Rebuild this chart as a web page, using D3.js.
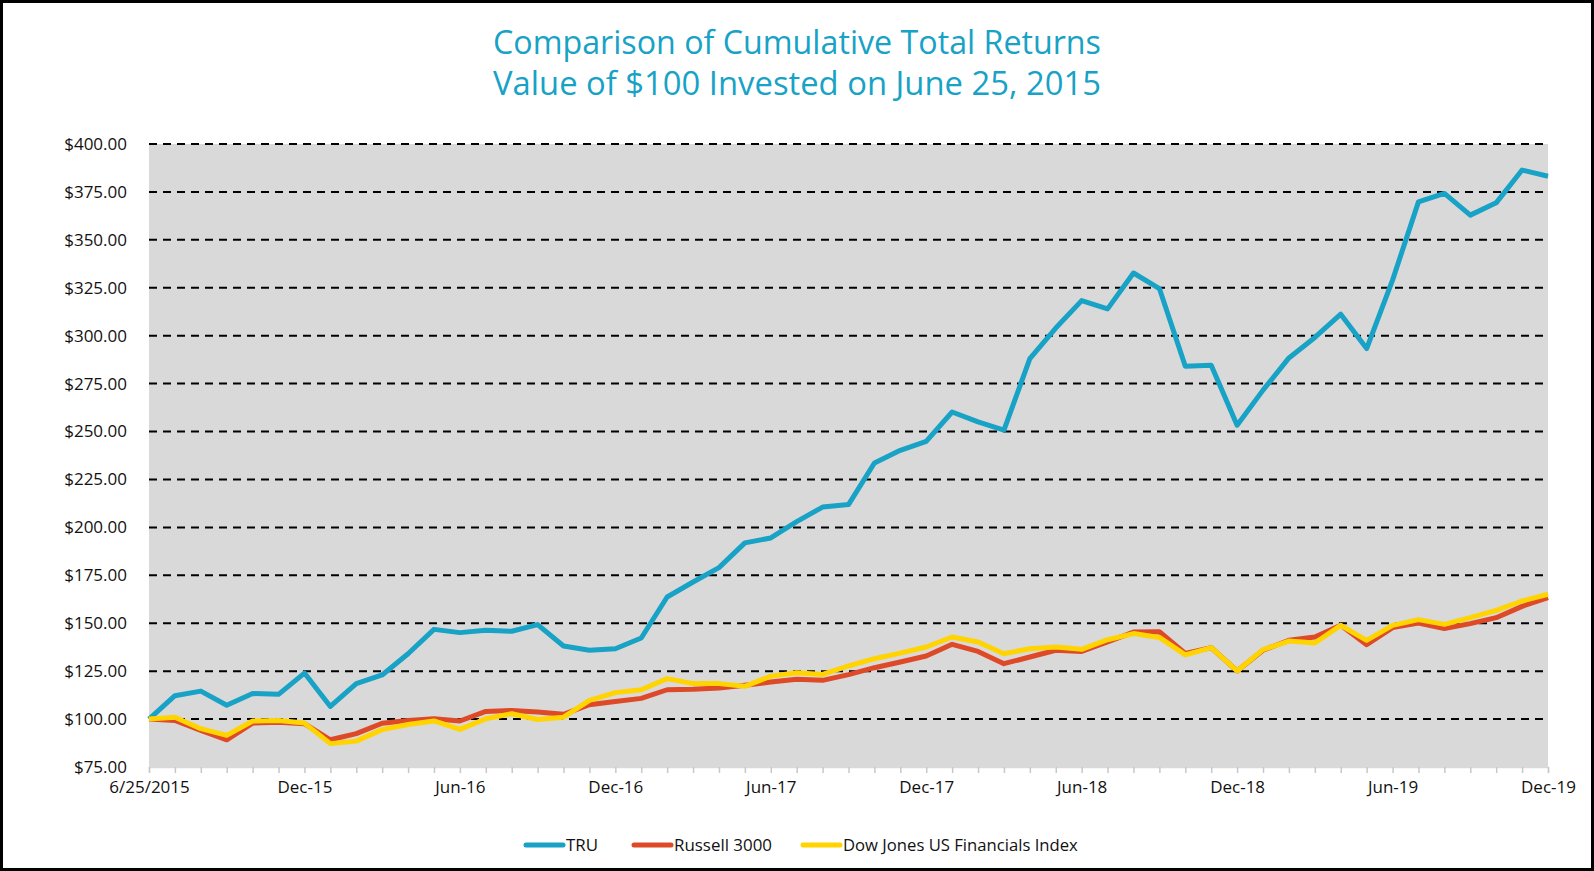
<!DOCTYPE html>
<html>
<head>
<meta charset="utf-8">
<script src="https://cdn.jsdelivr.net/npm/d3@7"></script>
<style>
  html, body { margin: 0; padding: 0; background: #fff; }
  svg { display: block; font-family: "Open Sans", sans-serif; }
</style>
</head>
<body>
<div class="chart"></div>
<script>
// month categories, 6/25/2015 .. Dec-19
const months = [
  "6/25/2015", "Jul-15", "Aug-15", "Sep-15", "Oct-15", "Nov-15", "Dec-15",
  "Jan-16", "Feb-16", "Mar-16", "Apr-16", "May-16", "Jun-16",
  "Jul-16", "Aug-16", "Sep-16", "Oct-16", "Nov-16", "Dec-16",
  "Jan-17", "Feb-17", "Mar-17", "Apr-17", "May-17", "Jun-17",
  "Jul-17", "Aug-17", "Sep-17", "Oct-17", "Nov-17", "Dec-17",
  "Jan-18", "Feb-18", "Mar-18", "Apr-18", "May-18", "Jun-18",
  "Jul-18", "Aug-18", "Sep-18", "Oct-18", "Nov-18", "Dec-18",
  "Jan-19", "Feb-19", "Mar-19", "Apr-19", "May-19", "Jun-19",
  "Jul-19", "Aug-19", "Sep-19", "Oct-19", "Nov-19", "Dec-19"
]
const tickLabels = ["6/25/2015", "Dec-15", "Jun-16", "Dec-16", "Jun-17",
  "Dec-17", "Jun-18", "Dec-18", "Jun-19", "Dec-19"]

const tru = [
  100, 112.2, 114.6, 107.2, 113.3, 112.9, 124.0, 106.6, 118.5, 123.0,
  134.1, 146.8, 145.1, 146.3, 145.8, 149.3, 138.1, 135.9, 136.7, 142.3,
  163.7, 171.5, 179.0, 191.9, 194.5, 203.0, 210.6, 211.9, 233.6, 240.2,
  244.9, 260.2, 255.0, 250.7, 288.0, 304.0, 318.3, 314.0, 332.7, 324.6,
  284.1, 284.6, 253.3, 271.6, 288.4, 299.1, 311.2, 293.3, 329.0, 369.8,
  374.2, 362.9, 369.3, 386.4, 383.2
]
const russell = [
  100, 99.3, 94.1, 89.2, 97.9, 98.4, 97.6, 89.2, 92.4, 97.8,
  99.3, 100.2, 99.0, 104.0, 104.5, 103.7, 102.5, 107.5, 109.2, 110.8,
  115.3, 115.5, 116.2, 117.6, 119.3, 120.8, 120.2, 123.2, 126.8, 129.8,
  132.9, 139.0, 135.3, 128.9, 132.4, 135.9, 135.3, 140.2, 145.4, 145.6,
  134.2, 137.3, 125.1, 135.9, 141.1, 142.8, 148.9, 138.8, 147.7, 150.1,
  147.2, 149.8, 152.9, 158.8, 163.4
]
const dowJones = [
  100, 101.0, 95.0, 91.5, 99.0, 99.3, 97.9, 87.2, 88.5, 94.5,
  97.2, 99.0, 94.6, 100.2, 102.8, 99.8, 101.0, 109.8, 113.8, 115.3,
  121.1, 118.5, 118.5, 117.1, 122.4, 124.2, 123.3, 127.7, 131.5, 134.4,
  137.6, 142.8, 140.2, 134.1, 136.7, 137.6, 136.4, 141.4, 144.6, 142.6,
  133.5, 137.3, 125.1, 136.2, 140.7, 139.7, 148.9, 141.1, 148.9, 151.9,
  149.4, 152.9, 156.7, 161.6, 165.1
]
const yTicks = [75, 100, 125, 150, 175, 200, 225, 250, 275, 300, 325, 350, 375, 400]

const series = [
  { name: "TRU", values: tru, color: "#17a2c6" },
  { name: "Russell 3000", values: russell, color: "#de4a27" },
  { name: "Dow Jones US Financials Index", values: dowJones, color: "#ffd400" }
]

const W = 1594, H = 871
const plot = { left: 149, right: 1548, top: 144, bottom: 767 }

const svg = d3.select(".chart").append("svg")
  .attr("width", W)
  .attr("height", H)

// outer frame
svg.append("rect")
  .attr("x", 1.5).attr("y", 1.5)
  .attr("width", W - 3).attr("height", H - 3)
  .attr("fill", "#fff")
  .attr("stroke", "#000")
  .attr("stroke-width", 3)

// shrink/grow a text node to a given width
function fit (sel, width) {
  const fs = parseFloat(sel.attr("font-size"))
  const w = sel.node().getComputedTextLength()
  sel.attr("font-size", (fs * width / w).toFixed(2))
}

const titleColor = "#17a2c6"
fit(svg.append("text")
  .attr("x", 797).attr("y", 54)
  .attr("text-anchor", "middle")
  .attr("font-size", 30)
  .attr("fill", titleColor)
  .text("Comparison of Cumulative Total Returns"), 608)
fit(svg.append("text")
  .attr("x", 797).attr("y", 95)
  .attr("text-anchor", "middle")
  .attr("font-size", 30)
  .attr("fill", titleColor)
  .text("Value of $100 Invested on June 25, 2015"), 608)

const x = d3.scalePoint()
  .domain(months)
  .range([plot.left, plot.right])

const y = d3.scaleLinear()
  .domain([75, 400])
  .range([plot.bottom, plot.top])

svg.append("rect")
  .attr("x", plot.left).attr("y", plot.top)
  .attr("width", plot.right - plot.left)
  .attr("height", plot.bottom - plot.top)
  .attr("fill", "#d9d9d9")

// dashed gridlines
svg.append("g")
  .selectAll("line")
  .data(yTicks.filter((d) => d > 75))
  .enter()
  .append("line")
    .attr("x1", plot.left)
    .attr("x2", plot.right)
    .attr("y1", (d) => y(d))
    .attr("y2", (d) => y(d))
    .attr("stroke", "#000")
    .attr("stroke-width", 2)
    .attr("stroke-dasharray", "8,6")

// y axis labels
const yAxis = svg.append("g")
  .attr("transform", "translate(" + plot.left + ",0)")
  .call(d3.axisLeft(y)
    .tickValues(yTicks)
    .tickSize(0)
    .tickPadding(22)
    .tickFormat(d3.format("$,.2f")))
yAxis.select(".domain").remove()
yAxis.selectAll("text")
  .attr("font-family", "Open Sans")
  .attr("font-size", 17)
  .attr("fill", "#111")

// x axis
const xAxis = svg.append("g")
  .attr("transform", "translate(0," + plot.bottom + ")")
  .call(d3.axisBottom(x)
    .tickSize(6)
    .tickPadding(8)
    .tickFormat((d) => tickLabels.includes(d) ? d : ""))
xAxis.select(".domain").attr("stroke", "#d9d9d9").attr("stroke-width", 1.5)
xAxis.selectAll(".tick line").attr("stroke", "#c8c8c8").attr("stroke-width", 1.5)
xAxis.selectAll("text")
  .attr("font-family", "Open Sans")
  .attr("font-size", 17)
  .attr("fill", "#111")

// lines
const line = d3.line()
  .x((d, i) => x(months[i]))
  .y((d) => y(d))

svg.append("g")
  .selectAll("path")
  .data(series)
  .enter()
  .append("path")
    .attr("d", (d) => line(d.values))
    .attr("fill", "none")
    .attr("stroke", (d) => d.color)
    .attr("stroke-width", 5)
    .attr("stroke-linejoin", "round")

// legend
const legendItems = [
  { x: 523, textW: 32 },
  { x: 631, textW: 98 },
  { x: 800, textW: 235 }
]
const legend = svg.append("g").attr("transform", "translate(0,845)")
series.forEach((s, i) => {
  const it = legendItems[i]
  legend.append("line")
    .attr("x1", it.x + 3).attr("x2", it.x + 40)
    .attr("y1", 0).attr("y2", 0)
    .attr("stroke", s.color)
    .attr("stroke-width", 5)
    .attr("stroke-linecap", "round")
  fit(legend.append("text")
    .attr("x", it.x + 43).attr("y", 0)
    .attr("dy", "0.35em")
    .attr("font-size", 15)
    .attr("fill", "#111")
    .text(s.name), it.textW)
})
</script>
</body>
</html>
